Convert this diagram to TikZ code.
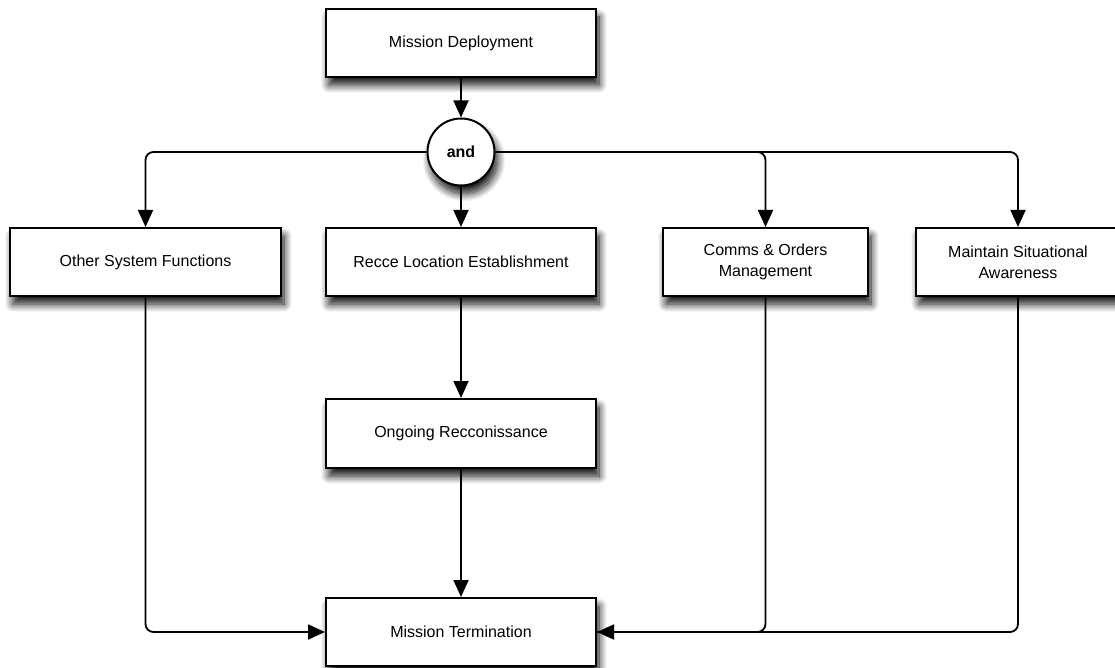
\documentclass[tikz,border=0pt]{standalone}
\usepackage{fontspec}
\setmainfont{Liberation Sans}
\usetikzlibrary{arrows.meta,shadows.blur}

\begin{document}
\begin{tikzpicture}[x=1pt,y=-1pt,
  softshadow/.style={blur shadow={shadow xshift=3pt, shadow yshift=-8pt,
      shadow blur radius=8pt, shadow opacity=95, shadow blur steps=14}},
  box/.style={draw=black, line width=2pt, fill=white, minimum width=#1,
      minimum height=68pt, inner sep=0pt, align=center,
      font=\fontsize{16}{21}\selectfont, softshadow},
  gate/.style={circle, draw=black, line width=2pt, fill=white,
      minimum size=67pt, inner sep=0pt, font=\fontsize{16}{19}\selectfont\bfseries,
      softshadow},
  conn/.style={draw=black, line width=1.8pt, rounded corners=8pt,
      -{Triangle[length=17pt,width=15pt]}},
  link/.style={draw=black, line width=1.8pt, rounded corners=8pt}
]
\useasboundingbox (0,0) rectangle (1115,668);
\clip (0,0) rectangle (1115,668);

% process steps
\node[box=270pt] (deploy) at (461,43) {Mission Deployment};
\node[gate] (and) at (461,152) {and};
\node[box=271pt] (other) at (145.5,262) {Other System Functions};
\node[box=270pt] (recce) at (461,262) {Recce Location Establishment};
\node[box=205pt] (comms) at (765.5,262) {Comms \& Orders\\Management};
\node[box=204pt] (aware) at (1018,262) {Maintain Situational\\Awareness};
\node[box=270pt, minimum height=69pt] (ongoing) at (461,433.5) {Ongoing Recconissance};
\node[box=270pt] (term) at (461,632) {Mission Termination};

% flow
\draw[conn] (deploy) -- (and);
\draw[conn] (and.west) -| (other.north);
\draw[conn] (and) -- (recce);
\draw[conn] (and.east) -| (comms.north);
\draw[conn] (and.east) -| (aware.north);
\draw[conn] (recce) -- (ongoing);
\draw[conn] (ongoing) -- (term);
\draw[conn] (other.south) |- (term.west);
\draw[conn] (comms.south) |- (term.east);
\draw[link] (aware.south) |- (term.east);
\end{tikzpicture}
\end{document}
